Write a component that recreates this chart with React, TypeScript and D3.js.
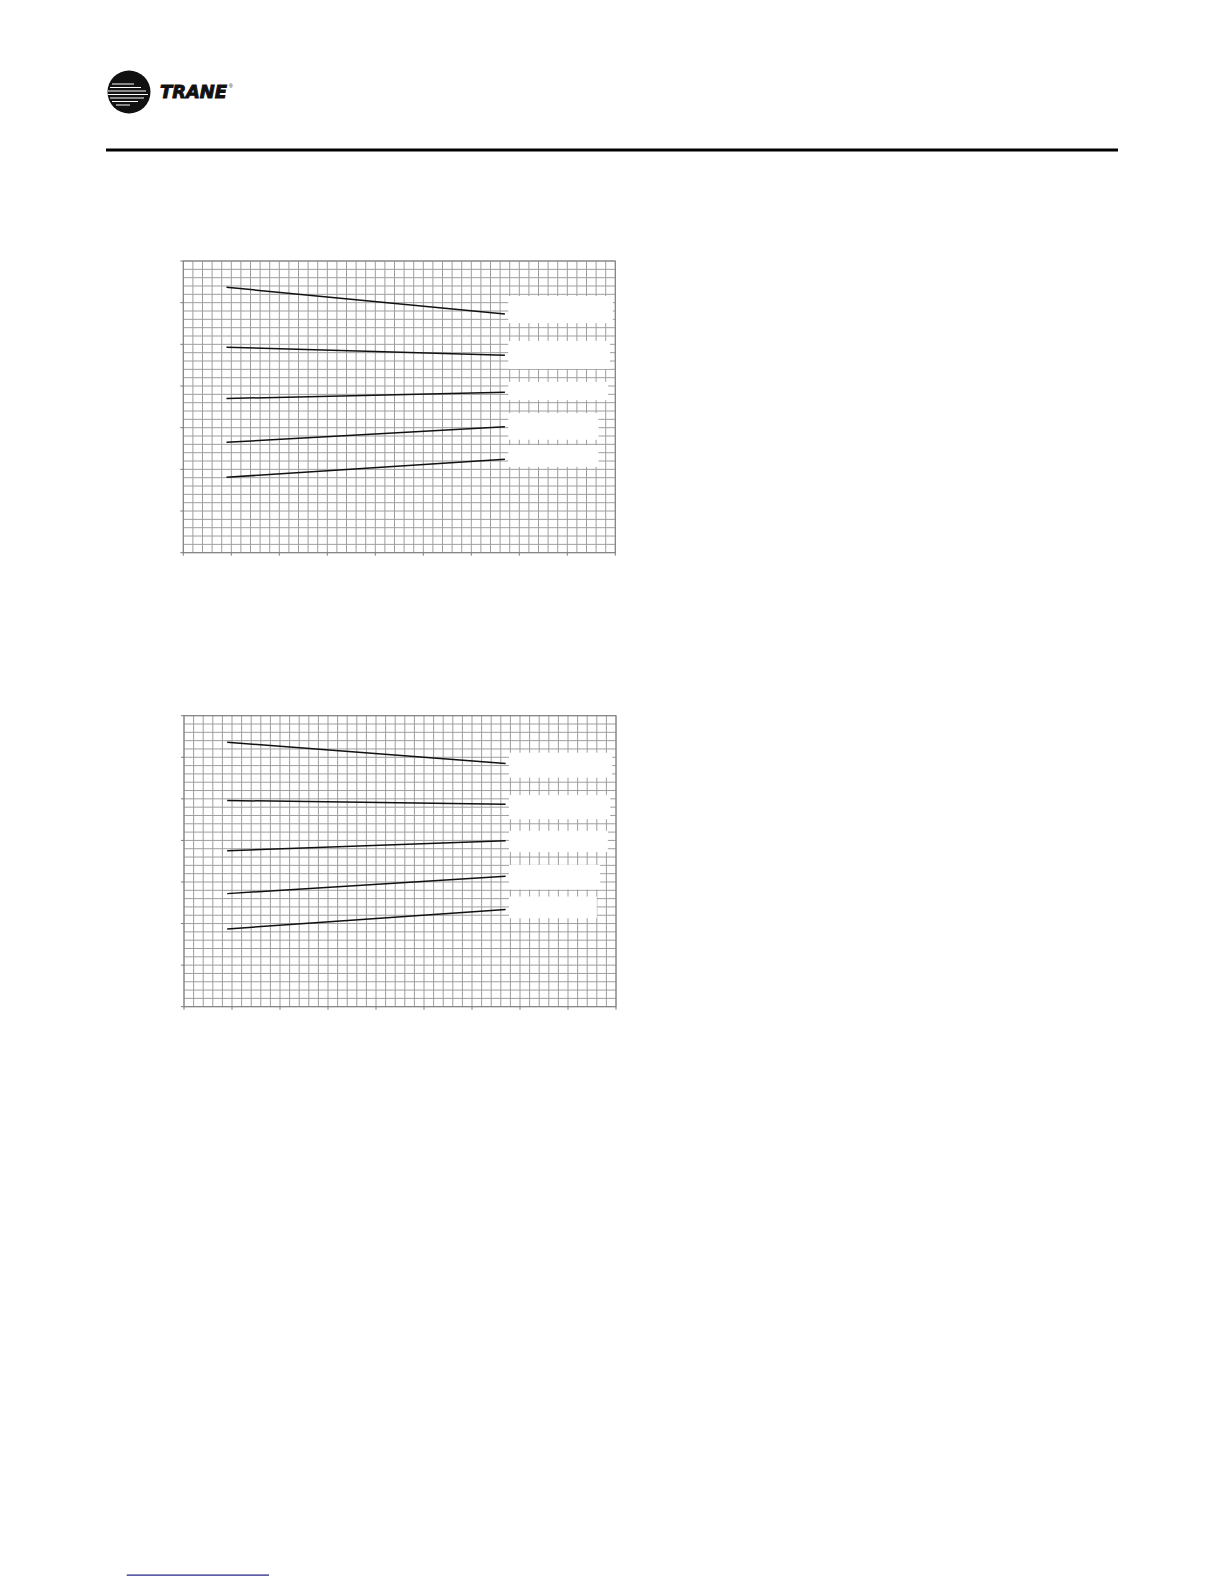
import React from "react";
import * as d3 from "d3";

// ---- data (axis units: x 0..9 majors, y 0..7 majors; no labels in source) ----
const xMajor = d3.range(0, 10);
const yMajor = d3.range(0, 8);
const lineX = [0.9, 6.7];

const chart1Start = [6.37, 4.93, 3.7, 2.65, 1.81];
const chart1End = [5.73, 4.74, 3.85, 3.02, 2.24];
const chart1BoxTop = [6.16, 5.08, 4.1, 3.35, 2.58];
const chart1BoxBottom = [5.51, 4.41, 3.66, 2.71, 2.06];
const chart1BoxRight = [8.95, 8.89, 8.85, 8.65, 8.65];

const chart2Start = [6.36, 4.96, 3.75, 2.72, 1.87];
const chart2End = [5.85, 4.87, 3.99, 3.14, 2.34];
const chart2BoxTop = [6.11, 5.09, 4.23, 3.41, 2.65];
const chart2BoxBottom = [5.51, 4.51, 3.72, 2.82, 2.13];
const chart2BoxRight = [8.92, 8.88, 8.83, 8.67, 8.6];

const boxLeft = 6.77;

type ChartProps = {
  left: number;
  top: number;
  width: number;
  height: number;
  starts: number[];
  ends: number[];
  boxTop: number[];
  boxBottom: number[];
  boxRight: number[];
};

function Chart({ left, top, width, height, starts, ends, boxTop, boxBottom, boxRight }: ChartProps) {
  const x = d3.scaleLinear().domain([0, 9]).range([left, left + width]);
  const y = d3.scaleLinear().domain([0, 7]).range([top + height, top]);
  const xMinor = d3.range(0, 9.001, 0.2);
  const yMinor = d3.range(0, 7.001, 0.2);
  const line = d3
    .line<[number, number]>()
    .x((d) => x(d[0]))
    .y((d) => y(d[1]));
  const grid = "#9f9f9f";
  const axis = "#7d7d7d";
  return (
    <g>
      {xMinor.map((v, i) => (
        <line key={"vx" + i} x1={x(v)} x2={x(v)} y1={y(0)} y2={y(7)} stroke={grid} strokeWidth={1} />
      ))}
      {yMinor.map((v, i) => (
        <line key={"hy" + i} x1={x(0)} x2={x(9)} y1={y(v)} y2={y(v)} stroke={grid} strokeWidth={1} />
      ))}
      {/* white label masks */}
      {boxTop.map((t, i) => (
        <rect
          key={"b" + i}
          x={x(boxLeft)}
          y={y(t)}
          width={x(boxRight[i]) - x(boxLeft)}
          height={y(boxBottom[i]) - y(t)}
          fill="#ffffff"
        />
      ))}
      {/* frame */}
      <rect x={x(0)} y={y(7)} width={x(9) - x(0)} height={y(0) - y(7)} fill="none" stroke={axis} strokeWidth={1} />
      {yMajor.map((v) => (
        <line key={"ty" + v} x1={x(0) - 3} x2={x(0)} y1={y(v)} y2={y(v)} stroke={axis} strokeWidth={1} />
      ))}
      {xMajor.map((v) => (
        <line key={"tx" + v} x1={x(v)} x2={x(v)} y1={y(0)} y2={y(0) + 3} stroke={axis} strokeWidth={1} />
      ))}
      {starts.map((s, i) => (
        <path
          key={"l" + i}
          d={line([
            [lineX[0], s],
            [lineX[1], ends[i]],
          ]) || ""}
          fill="none"
          stroke="#111"
          strokeWidth={1.5}
        />
      ))}
    </g>
  );
}

function Logo() {
  const cx = 129;
  const cy = 92;
  const r = 21.5;
  const stripes = [
    { y: 84, x1: 112, x2: 134 },
    { y: 87.5, x1: 110, x2: 141 },
    { y: 91, x1: 108, x2: 146 },
    { y: 94.5, x1: 108, x2: 148 },
    { y: 98, x1: 110, x2: 144 },
    { y: 101.5, x1: 112, x2: 138 },
    { y: 105, x1: 116, x2: 130 },
  ];
  return (
    <g>
      <defs>
        <clipPath id="logoClip">
          <circle cx={cx} cy={cy} r={r} />
        </clipPath>
      </defs>
      <circle cx={cx} cy={cy} r={r} fill="#111" />
      <g clipPath="url(#logoClip)">
        {stripes.map((s, i) => (
          <line key={i} x1={s.x1} x2={s.x2} y1={s.y} y2={s.y} stroke="#fff" strokeWidth={1.1} />
        ))}
      </g>
      <text
        x={160}
        y={97.5}
        fontFamily="'DejaVu Sans', 'Liberation Sans', sans-serif"
        fontWeight="bold"
        fontStyle="italic"
        fontSize={17}
        textLength={67}
        lengthAdjust="spacingAndGlyphs"
        fill="#111"
        stroke="#111"
        strokeWidth={0.9}
      >
        TRANE
      </text>
      <text x={229} y={88} fontFamily="'Liberation Sans', Arial, sans-serif" fontSize={5} fill="#111">
        ®
      </text>
    </g>
  );
}

export default function App() {
  return (
    <svg
      width={1224}
      height={1584}
      style={{ position: "absolute", left: 0, top: 0, display: "block", background: "#fff" }}
    >
      <rect x={0} y={0} width={1224} height={1584} fill="#fff" />
      <Logo />
      <rect x={106} y={148.5} width={1012} height={3} fill="#000" />
      <Chart
        left={183.3}
        top={261}
        width={432}
        height={291.7}
        starts={chart1Start}
        ends={chart1End}
        boxTop={chart1BoxTop}
        boxBottom={chart1BoxBottom}
        boxRight={chart1BoxRight}
      />
      <Chart
        left={184}
        top={715.7}
        width={432}
        height={291}
        starts={chart2Start}
        ends={chart2End}
        boxTop={chart2BoxTop}
        boxBottom={chart2BoxBottom}
        boxRight={chart2BoxRight}
      />
      <rect x={126.7} y={1574.5} width={142.3} height={1.2} fill="#1a1a80" />
    </svg>
  );
}
